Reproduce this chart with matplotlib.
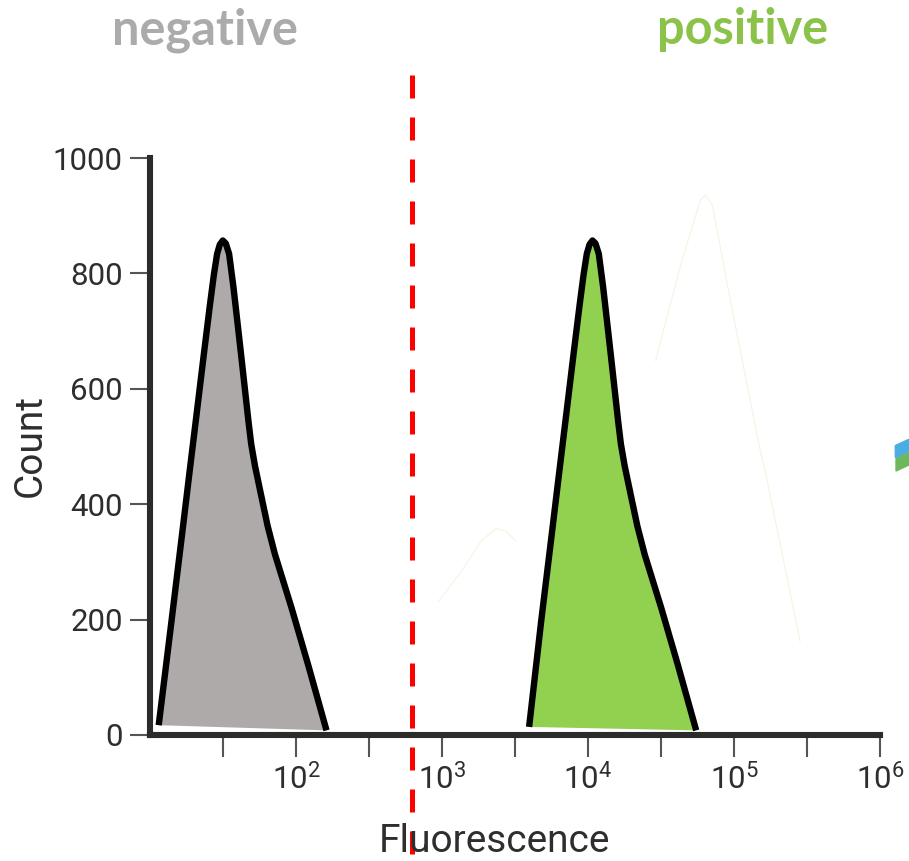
import numpy as np
import matplotlib
matplotlib.use("Agg")
import matplotlib.pyplot as plt
from matplotlib.patches import Polygon

# Histogram outlines (fluorescence intensity, event count)
neg_fluor = [11.47, 14.03, 16.99, 18.58, 20.78, 23.38, 25.69, 27.36, 28.82, 30.07,
             31.52, 33.04, 34.81, 37.30, 39.60, 42.03, 44.56, 47.23, 49.35, 52.40,
             58.21, 63.97, 71.77, 93.30, 121.3, 161.8]
neg_count = [17, 197, 370, 452, 553, 660, 744, 797, 834, 850,
             857, 852, 834, 776, 718, 660, 602, 544, 504, 466,
             411, 362, 313, 220, 121, 8]

pos_fluor = [3950, 4777, 5785, 6327, 7076, 7961, 8748, 9316, 9813, 10239,
             10733, 11250, 11853, 12701, 13484, 14311, 15173, 16082, 16804, 17842,
             19821, 21782, 24438, 31769, 41303, 55093]
pos_count = [14, 197, 370, 452, 553, 660, 744, 797, 834, 850,
             857, 852, 834, 776, 718, 660, 602, 544, 504, 466,
             411, 362, 313, 220, 121, 8]

# Faint background traces
ghost1_fluor = [942, 1352, 1854, 2344, 2748, 3214]
ghost1_count = [231, 283, 336, 358, 353, 336]
ghost2_fluor = [29040, 43050, 58880, 63830, 71120, 94410, 151400, 163700, 283800]
ghost2_count = [649, 814, 927, 936, 918, 753, 492, 457, 162]

gate = 625
y_ticks = [0, 200, 400, 600, 800, 1000]
x_tick_exps = [1.5, 2, 2.5, 3, 3.5, 4, 4.5, 5, 5.5, 6]

plt.rcParams['font.family'] = ['Roboto', 'DejaVu Sans']
plt.rcParams['mathtext.fontset'] = 'custom'
plt.rcParams['mathtext.rm'] = 'Roboto'
plt.rcParams['mathtext.it'] = 'Roboto'

W, H = 909, 861
fig = plt.figure(figsize=(W / 100, H / 100), dpi=100)
ax = fig.add_axes([150 / W, 1 - 735 / H, (880 - 150) / W, (735 - 158) / H])

ax.set_xscale('log')
ax.set_xlim(10, 1e6)
ax.set_ylim(0, 1000)

spine_c = '#2b2b2b'
for s in ['top', 'right']:
    ax.spines[s].set_visible(False)
for s in ['left', 'bottom']:
    ax.spines[s].set_linewidth(4.4)
    ax.spines[s].set_color(spine_c)
    ax.spines[s].set_capstyle('projecting')

# ghost traces
for fx, cy in [(ghost1_fluor, ghost1_count), (ghost2_fluor, ghost2_count)]:
    ax.plot(fx, cy, color='#92D050', lw=0.7, alpha=0.18, zorder=1)

# histograms
ax.fill(neg_fluor, neg_count, color='#AEAAAA', zorder=2, lw=0)
ax.plot(neg_fluor, neg_count, color='black', lw=4.6, zorder=3,
        solid_joinstyle='round', solid_capstyle='butt')
ax.fill(pos_fluor, pos_count, color='#92D050', zorder=2, lw=0)
ax.plot(pos_fluor, pos_count, color='black', lw=4.6, zorder=3,
        solid_joinstyle='round', solid_capstyle='butt')

# gate line
y_top = (733 - 75) / 0.575
y_bot = (733 - 870) / 0.575
ax.plot([gate, gate], [y_top, y_bot], color='#FF0000', lw=3.6,
        dashes=(4.6, 3.8), clip_on=False, zorder=5)

# ticks
ax.set_yticks(y_ticks)
ax.set_yticklabels([str(v) for v in y_ticks])
ax.set_xticks([10 ** e for e in x_tick_exps])
ax.set_xticklabels([r'$\mathregular{10^{%d}}$' % e if float(e).is_integer() else ''
                    for e in x_tick_exps])
ax.xaxis.set_minor_locator(matplotlib.ticker.NullLocator())
ax.tick_params(axis='y', length=14.5, width=1.5, color='#555555', pad=5,
               labelsize=22.5, labelcolor='#2e2e2e')
ax.tick_params(axis='x', length=16, width=1.5, color='#555555', pad=4,
               labelsize=22.5, labelcolor='#2e2e2e')

fig.text(30 / W, 1 - 446 / H, 'Count', rotation=90, ha='center', va='center',
         fontsize=28, color='#2e2e2e')
fig.text(494 / W, 1 - 842 / H, 'Fluorescence', ha='center', va='center',
         fontsize=28, color='#2e2e2e')

fig.text(205 / W, 1 - 30 / H, 'negative', ha='center', va='center',
         fontsize=35, fontweight='bold', color='#ABABAB', family=['Lato', 'DejaVu Sans'])
fig.text(743 / W, 1 - 30 / H, 'positive', ha='center', va='center',
         fontsize=35, fontweight='bold', color='#8BC34A', family=['Lato', 'DejaVu Sans'])

# small logo fragment at right edge
def px(pts):
    return [(x / W, 1 - y / H) for x, y in pts]

fig.add_artist(Polygon(px([(896, 446), (909, 440), (909, 451), (896, 457)]),
                       closed=True, facecolor='#4AAEE3', edgecolor='#4AAEE3',
                       lw=2, joinstyle='round', transform=fig.transFigure))
fig.add_artist(Polygon(px([(896, 459), (909, 453), (909, 465), (896, 471)]),
                       closed=True, facecolor='#6DB85A', edgecolor='#6DB85A',
                       lw=1, transform=fig.transFigure))

fig.savefig('out.png', dpi=100)
